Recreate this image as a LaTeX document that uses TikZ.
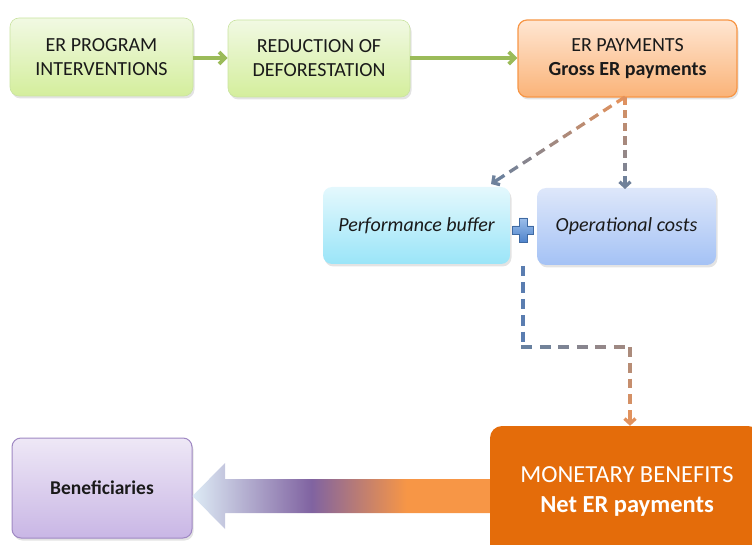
\documentclass[tikz,border=0pt]{standalone}
\usepackage{fontspec}
\setmainfont{Carlito}
\usetikzlibrary{arrows.meta,shadows,calc}
\definecolor{grT}{HTML}{F1F9E3}
\definecolor{grB}{HTML}{D4EE9C}
\definecolor{grD}{HTML}{C9E3A0}
\definecolor{orT}{HTML}{FFE6D2}
\definecolor{orB}{HTML}{FAB378}
\definecolor{orD}{HTML}{F79646}
\definecolor{cyT}{HTML}{E4F8FD}
\definecolor{cyB}{HTML}{9AE5F8}
\definecolor{blT}{HTML}{DEE7FA}
\definecolor{blB}{HTML}{A4C2F5}
\definecolor{puT}{HTML}{EEE8F6}
\definecolor{puB}{HTML}{C9B6E5}
\definecolor{puD}{HTML}{9F88C3}
\definecolor{mbF}{HTML}{E46C0A}
\definecolor{grA}{HTML}{9BBB59}
\definecolor{dashO}{HTML}{E8935A}
\definecolor{dashB}{HTML}{67809F}
\definecolor{dashBl}{HTML}{5A7DB0}
\definecolor{dashM}{HTML}{A48A80}
\definecolor{arrL}{HTML}{DDEBF5}
\definecolor{arrP}{HTML}{8063A1}
\definecolor{arrO}{HTML}{F79646}
\definecolor{plT}{HTML}{9CBEEA}
\definecolor{plB}{HTML}{4F84CC}
\definecolor{txt}{HTML}{1A1A1A}
\pgfdeclarehorizontalshading{bigarrow}{100bp}{color(0bp)=(arrL); color(25bp)=(arrL); color(45bp)=(arrP); color(61bp)=(arrO); color(75bp)=(arrO); color(100bp)=(arrO)}
\newcommand{\gradDash}[5]{%
  \foreach \i in {1,...,#3}{%
    \pgfmathsetmacro\tA{(\i-1)/#3}%
    \pgfmathtruncatemacro\pc{100*(1-(\i-0.5)/#3)}%
    \colorlet{dc}{#4!\pc!#5}%
    \ifnum\i=#3\relax
      \draw[dashline,-{Straight Barb[length=5pt,width=11pt]}] ($(#1)!\tA!(#2)$) -- (#2);
    \else
      \pgfmathsetmacro\tB{(\i-1+0.62)/#3}%
      \draw[dashline] ($(#1)!\tA!(#2)$) -- ($(#1)!\tB!(#2)$);
    \fi
  }%
}
\begin{document}
\begin{tikzpicture}[x=1pt,y=-1pt,
  box/.style={rounded corners=9pt, align=center, inner sep=2pt, font=\fontsize{20}{24}\selectfont, text=txt,
    drop shadow={opacity=0.22, shadow xshift=1.5pt, shadow yshift=-2.5pt}},
  greenbox/.style={box, top color=grT, bottom color=grB, draw=grD, line width=0.6pt},
  greenarrow/.style={draw=grA, line width=3.8pt, -{Straight Barb[length=6pt,width=12pt]}},
  dashline/.style={draw=dc, line width=3.3pt, line cap=butt}
]
\useasboundingbox (0,0) rectangle (752,545);
\begin{scope}
\clip (0,0) rectangle (752,545);

% top row
\node[greenbox, minimum width=183pt, minimum height=78pt] (b1) at (101.5,57) {ER PROGRAM\\INTERVENTIONS};
\node[greenbox, minimum width=182pt, minimum height=77pt] (b2) at (319,58.5) {REDUCTION OF\\DEFORESTATION};
\node[box, top color=orT, bottom color=orB, draw=orD, line width=1.2pt, minimum width=219pt, minimum height=77pt] (b3) at (627.5,58.5) {ER PAYMENTS\\\textbf{Gross ER payments}};

\draw[greenarrow] (b1.east |- 0,58) -- (b2.west |- 0,58);
\draw[greenarrow] (b2.east |- 0,58) -- (b3.west |- 0,58);

% middle row
\node[box, top color=cyT, bottom color=cyB, minimum width=187pt, minimum height=77pt] (pb) at (416.5,225.5) {\itshape Performance buffer};
\node[box, top color=blT, bottom color=blB, minimum width=179pt, minimum height=77pt] (oc) at (626.5,226.5) {\itshape Operational costs};

% plus sign
\node[inner sep=0pt, minimum size=22pt] (plus) at (523,230) {};
\shade[top color=plT, bottom color=plB, draw=plB!80!black, line width=0.3pt]
  ($(plus.center)+(-4,-12)$) -- ($(plus.center)+(4,-12)$) -- ($(plus.center)+(4,-4)$) --
  ($(plus.center)+(10.5,-4)$) -- ($(plus.center)+(10.5,4)$) -- ($(plus.center)+(4,4)$) --
  ($(plus.center)+(4,12)$) -- ($(plus.center)+(-4,12)$) -- ($(plus.center)+(-4,4)$) --
  ($(plus.center)+(-10.5,4)$) -- ($(plus.center)+(-10.5,-4)$) -- ($(plus.center)+(-4,-4)$) -- cycle;

% bottom row
\node[box, fill=mbF, text=white, minimum width=270pt, minimum height=130pt, rounded corners=12pt,
  font=\fontsize{24.5}{30}\selectfont] (mb) at (625,491) {\hspace*{4pt}\begin{tabular}{@{}c@{}}MONETARY BENEFITS\\\textbf{Net ER payments}\end{tabular}};
\node[box, top color=puT, bottom color=puB, draw=puD, line width=1pt, minimum width=180pt, minimum height=100pt,
  font=\bfseries\fontsize{19.5}{24}\selectfont] (ben) at (102,488) {Beneficiaries};

% big gradient arrow
\shade[shading=bigarrow]
  (mb.west |- 0,479) -- (225,479) -- (225,463) -- (ben.east |- 0,496) -- (225,529) -- (225,513) -- (mb.west |- 0,513) -- cycle;

% dashed connectors
\coordinate (s0) at (625,97);
\coordinate (e1) at (491,184);
\coordinate (e2) at (625,189);
\gradDash{s0}{e1}{10}{dashO}{dashB}
\gradDash{s0}{e2}{7}{dashO}{dashB}

\coordinate (p0) at (523,266);
\coordinate (p1) at (523,347);
\coordinate (p2) at (630,347);
\coordinate (p3) at (630,426);
\foreach \k in {0,...,4}{
  \pgfmathsetmacro\yA{266+\k*16.4}
  \pgfmathsetmacro\yB{\yA+10.5}
  \colorlet{dc}{dashBl}
  \draw[dashline] (p0 |- 0,\yA) -- (p0 |- 0,\yB);
}
\foreach \k in {0,...,5}{
  \pgfmathsetmacro\xA{521.4+\k*18.5}
  \pgfmathsetmacro\xB{\xA+11}
  \pgfmathtruncatemacro\pc{100-\k*18}
  \colorlet{dc}{dashB!\pc!dashM}
  \draw[dashline] (p1 -| \xA,0) -- (p1 -| \xB,0);
}
\gradDash{p2}{mb.north -| p3}{5}{dashM}{dashO}
\end{scope}
\end{tikzpicture}
\end{document}
